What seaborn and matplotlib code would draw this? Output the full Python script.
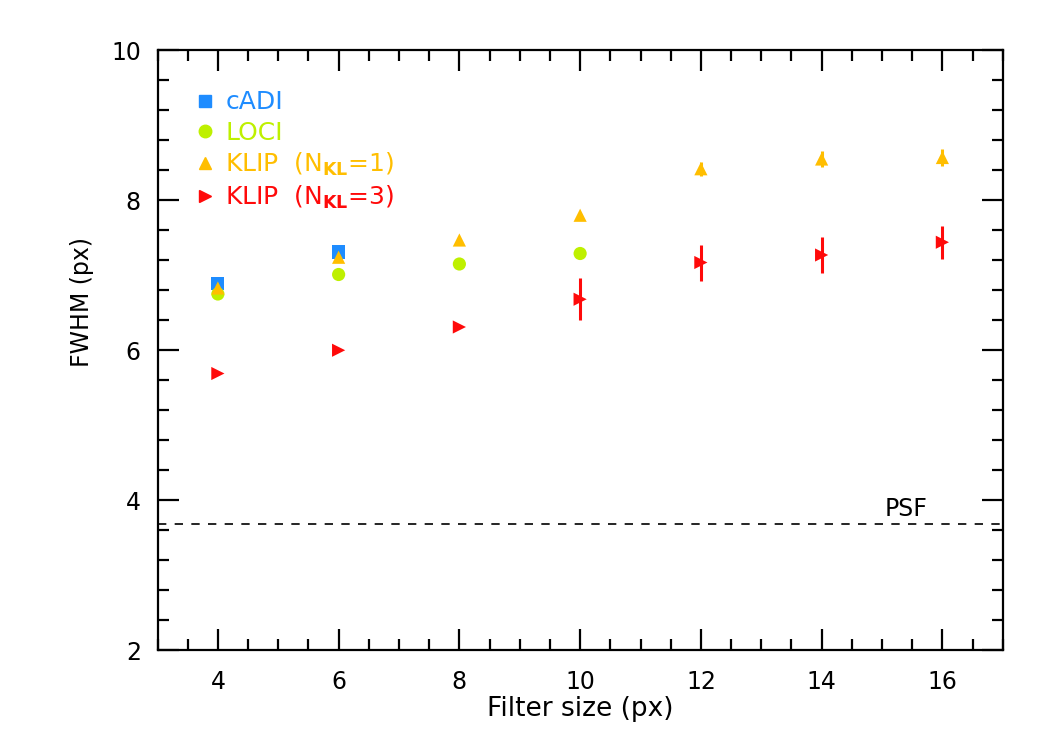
import numpy as np
import pandas as pd
import seaborn as sns
import matplotlib.pyplot as plt
from matplotlib.ticker import MultipleLocator
from matplotlib.lines import Line2D

# data
filter_cadi = [4, 6]
fwhm_cadi = [6.89, 7.31]

filter_loci = [4, 6, 8, 10]
fwhm_loci = [6.75, 7.01, 7.15, 7.29]

filter_klip1 = [4, 6, 8, 10, 12, 14, 16]
fwhm_klip1 = [6.83, 7.24, 7.47, 7.80, 8.42, 8.55, 8.57]
err_klip1 = [0.0, 0.0, 0.0, 0.0, 0.09, 0.11, 0.12]

filter_klip3 = [4, 6, 8, 10, 12, 14, 16]
fwhm_klip3 = [5.69, 6.00, 6.31, 6.68, 7.17, 7.27, 7.44]
err_klip3 = [0.0, 0.0, 0.0, 0.28, 0.24, 0.24, 0.22]

psf_fwhm = 3.69

colors = {"cADI": "#1E8CFF", "LOCI": "#BEF000", "KLIP1": "#FFBE00", "KLIP3": "#FF0A0A"}

sns.set_style("ticks")
plt.rcParams["font.family"] = ["DejaVu Sans"]
plt.rcParams["mathtext.fontset"] = "dejavusans"
plt.rcParams["text.color"] = "black"
plt.rcParams["axes.labelcolor"] = "black"
plt.rcParams["xtick.color"] = "black"
plt.rcParams["ytick.color"] = "black"
plt.rcParams["axes.edgecolor"] = "black"

fig = plt.figure(figsize=(10.5, 7.5), dpi=100)
ax = fig.add_axes([0.150, 0.133, 0.805, 0.800])

# error bars first
ax.errorbar(filter_klip1, fwhm_klip1, yerr=err_klip1, fmt="none",
            ecolor=colors["KLIP1"], elinewidth=2.2, capsize=0, zorder=2)
ax.errorbar(filter_klip3, fwhm_klip3, yerr=err_klip3, fmt="none",
            ecolor=colors["KLIP3"], elinewidth=2.2, capsize=0, zorder=2)

sns.scatterplot(x=filter_cadi, y=fwhm_cadi, marker="s", s=90, color=colors["cADI"],
                edgecolor="none", ax=ax, zorder=3)
sns.scatterplot(x=filter_loci, y=fwhm_loci, marker="o", s=90, color=colors["LOCI"],
                edgecolor="none", ax=ax, zorder=4)
sns.scatterplot(x=filter_klip1, y=fwhm_klip1, marker="^", s=90, color=colors["KLIP1"],
                edgecolor="none", ax=ax, zorder=5)
sns.scatterplot(x=filter_klip3, y=fwhm_klip3, marker=">", s=90, color=colors["KLIP3"],
                edgecolor="none", ax=ax, zorder=5)

# PSF reference line
ax.axhline(psf_fwhm, color="black", linestyle=(0, (5, 5)), linewidth=1.2, zorder=1)
ax.text(15.4, psf_fwhm + 0.04, "PSF", fontsize=17, ha="center", va="bottom")

ax.set_xlim(3, 17)
ax.set_ylim(2, 10)
ax.xaxis.set_major_locator(MultipleLocator(2))
ax.xaxis.set_minor_locator(MultipleLocator(0.5))
ax.yaxis.set_major_locator(MultipleLocator(2))
ax.yaxis.set_minor_locator(MultipleLocator(0.4))
ax.tick_params(which="both", direction="in", top=True, right=True, width=1.6,
               labelsize=17)
ax.tick_params(axis="x", pad=14)
ax.tick_params(axis="y", pad=12)
ax.tick_params(which="major", length=15)
ax.tick_params(which="minor", length=8)
for sp in ax.spines.values():
    sp.set_linewidth(1.6)

ax.set_xlabel("Filter size (px)", fontsize=19, labelpad=2)
ax.set_ylabel("FWHM (px)", fontsize=17)
ax.yaxis.set_label_coords(-0.075, 0.58)

handles = [
    Line2D([], [], marker="s", linestyle="none", color=colors["cADI"], markersize=9),
    Line2D([], [], marker="o", linestyle="none", color=colors["LOCI"], markersize=9),
    Line2D([], [], marker="^", linestyle="none", color=colors["KLIP1"], markersize=9),
    Line2D([], [], marker=">", linestyle="none", color=colors["KLIP3"], markersize=9),
]
labels = ["cADI", "LOCI", r"KLIP  (N$_{\mathbf{KL}}$=1)", r"KLIP  (N$_{\mathbf{KL}}$=3)"]
leg = ax.legend(handles, labels, loc="upper left", bbox_to_anchor=(0.03, 0.95),
                frameon=False, fontsize=18, handletextpad=0.3, handlelength=1.0,
                labelspacing=0.25, borderaxespad=0)
for txt, c in zip(leg.get_texts(), colors.values()):
    txt.set_color(c)

fig.savefig("out.png", dpi=100)
